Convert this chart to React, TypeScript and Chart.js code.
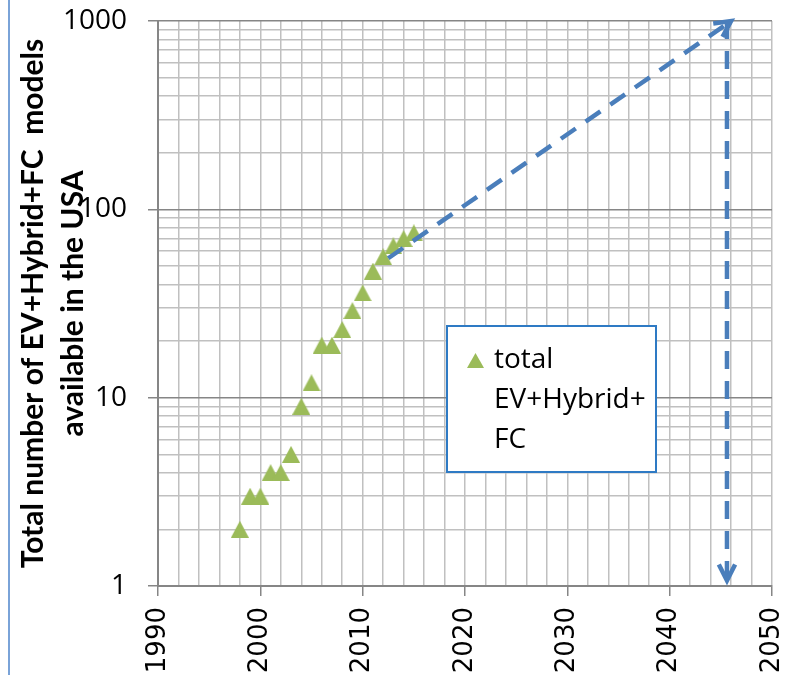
import React, { useEffect, useRef } from 'react';
import { Chart, registerables } from 'chart.js';

Chart.register(...registerables);

// ---- data ----
const years = [1998, 1999, 2000, 2001, 2002, 2003, 2004, 2005, 2006, 2007, 2008, 2009, 2010, 2011, 2012, 2013, 2014, 2015];
const totalModels = [2, 3, 3, 4, 4, 5, 9, 12, 19, 19, 23, 29, 36, 47, 56, 64, 70, 75];
const trendYears = [2012.5, 2046];
const trendValues = [55, 1000];
const dropYears = [2045.6, 2045.6];
const dropValues = [1000, 1.07];
const xLabelYears = [1990, 2000, 2010, 2020, 2030, 2040, 2050];
const yLabelValues = [1, 10, 100, 1000];
const yGridValues = [1, 2, 3, 4, 5, 6, 7, 8, 9, 10, 20, 30, 40, 50, 60, 70, 80, 90, 100, 200, 300, 400, 500, 600, 700, 800, 900, 1000];
const legendLines = ['total', 'EV+Hybrid+', 'FC'];
const yTitleLines = ['Total number of EV+Hybrid+FC  models', 'available in the USA'];

const GREEN = '#9bbb59';
const BLUE = '#4a7ebb';
const GRID = '#c0c0c0';
const AXIS = '#868686';

function makeTriangle(w: number, h: number): HTMLCanvasElement {
  const c = document.createElement('canvas');
  c.width = w;
  c.height = h;
  const g = c.getContext('2d')!;
  g.fillStyle = GREEN;
  g.beginPath();
  g.moveTo(w / 2, 0);
  g.lineTo(w, h);
  g.lineTo(0, h);
  g.closePath();
  g.fill();
  return c;
}

function drawArrowHead(ctx: CanvasRenderingContext2D, x0: number, y0: number, x1: number, y1: number) {
  const ang = Math.atan2(y1 - y0, x1 - x0);
  const len = 18;
  const spread = 0.47;
  ctx.beginPath();
  ctx.moveTo(x1 + Math.cos(ang + Math.PI - spread) * len, y1 + Math.sin(ang + Math.PI - spread) * len);
  ctx.lineTo(x1, y1);
  ctx.lineTo(x1 + Math.cos(ang + Math.PI + spread) * len, y1 + Math.sin(ang + Math.PI + spread) * len);
  ctx.stroke();
}

const overlayPlugin = {
  id: 'overlay',
  afterDatasetsDraw(chart: any) {
    const ctx: CanvasRenderingContext2D = chart.ctx;
    const xs = chart.scales.x;
    const ys = chart.scales.y;
    ctx.save();
    ctx.strokeStyle = BLUE;
    ctx.lineWidth = 4.5;
    ctx.setLineDash([]);
    ctx.lineJoin = 'miter';
    drawArrowHead(ctx,
      xs.getPixelForValue(trendYears[0]), ys.getPixelForValue(trendValues[0]),
      xs.getPixelForValue(trendYears[1]), ys.getPixelForValue(trendValues[1]));
    drawArrowHead(ctx,
      xs.getPixelForValue(dropYears[0]), ys.getPixelForValue(dropValues[0]),
      xs.getPixelForValue(dropYears[1]), ys.getPixelForValue(dropValues[1]));
    ctx.restore();
  },
  afterDraw(chart: any) {
    const ctx: CanvasRenderingContext2D = chart.ctx;
    const a = chart.chartArea;
    ctx.save();
    // legend box
    const bx = a.left + 289;
    const by = a.top + 305;
    const bw = 209;
    const bh = 146;
    ctx.fillStyle = '#ffffff';
    ctx.fillRect(bx, by, bw, bh);
    ctx.strokeStyle = '#2e7ac4';
    ctx.lineWidth = 2;
    ctx.strokeRect(bx, by, bw, bh);
    // legend marker
    ctx.fillStyle = GREEN;
    ctx.beginPath();
    ctx.moveTo(bx + 28.5, by + 27);
    ctx.lineTo(bx + 37, by + 42);
    ctx.lineTo(bx + 20, by + 42);
    ctx.closePath();
    ctx.fill();
    // legend text
    ctx.fillStyle = '#000000';
    ctx.font = '28px "Open Sans"';
    ctx.textAlign = 'left';
    ctx.textBaseline = 'alphabetic';
    legendLines.forEach((t, i) => {
      ctx.fillText(t, bx + 47, by + 42 + i * 40);
    });
    // y-axis title
    const cy = (a.top + a.bottom) / 2;
    ctx.font = 'bold 30px Lato';
    ctx.textAlign = 'center';
    yTitleLines.forEach((t, i) => {
      ctx.save();
      ctx.translate(43 + i * 40, cy);
      ctx.rotate(-Math.PI / 2);
      ctx.fillText(t, 0, 0);
      ctx.restore();
    });
    ctx.restore();
  },
};

export default function App() {
  const ref = useRef<HTMLCanvasElement | null>(null);

  useEffect(() => {
    if (!ref.current) return;
    const tri = makeTriangle(18, 17);
    const chart = new Chart(ref.current, {
      type: 'scatter',
      data: {
        datasets: [
          {
            label: 'trend',
            data: trendYears.map((x, i) => ({ x, y: trendValues[i] })),
            showLine: true,
            borderColor: BLUE,
            borderWidth: 4.5,
            borderDash: [18, 12],
            pointRadius: 0,
            clip: false as any,
          },
          {
            label: 'drop',
            data: dropYears.map((x, i) => ({ x, y: dropValues[i] })),
            showLine: true,
            borderColor: BLUE,
            borderWidth: 4.5,
            borderDash: [18, 12],
            pointRadius: 0,
            clip: false as any,
          },
          {
            label: 'total EV+Hybrid+FC',
            data: years.map((x, i) => ({ x, y: totalModels[i] })),
            pointStyle: tri as any,
            pointRadius: 9,
            backgroundColor: GREEN,
            borderColor: GREEN,
            showLine: false,
          },
        ],
      },
      options: {
        responsive: false,
        animation: false,
        layout: { padding: { left: 58, top: 21, right: 15, bottom: 0 } },
        plugins: {
          legend: { display: false },
          tooltip: { enabled: false },
        },
        scales: {
          x: {
            type: 'linear',
            min: 1990,
            max: 2050,
            afterFit: (s: any) => {
              s.height = 89;
              s.paddingLeft = 0;
              s.paddingRight = 0;
            },
            ticks: {
              stepSize: 2,
              autoSkip: false,
              minRotation: 90,
              maxRotation: 90,
              padding: 11,
              color: '#000000',
              font: { family: '"DejaVu Sans"', size: 26 },
              callback: (v: any) => (xLabelYears.includes(Number(v)) ? String(v) : ''),
            },
            grid: {
              color: GRID,
              lineWidth: 1.5,
              tickLength: 10,
              tickColor: (c: any) => (c.tick && xLabelYears.includes(c.tick.value) ? AXIS : 'rgba(0,0,0,0)'),
              tickWidth: 1.5,
            },
            border: { color: AXIS, width: 2 },
          },
          y: {
            type: 'logarithmic',
            min: 1,
            max: 1000,
            afterBuildTicks: (s: any) => {
              s.ticks = yGridValues.map((v) => ({ value: v, major: yLabelValues.includes(v) }));
            },
            afterFit: (s: any) => {
              s.width = 100;
              s.paddingTop = 0;
              s.paddingBottom = 0;
            },
            ticks: {
              autoSkip: false,
              padding: 21,
              color: '#000000',
              font: { family: '"Open Sans"', size: 28 },
              callback: (v: any) => (yLabelValues.includes(Number(v)) ? String(v) : ''),
            },
            grid: {
              color: (c: any) => (c.tick && yLabelValues.includes(c.tick.value) ? AXIS : GRID),
              lineWidth: 1.5,
              tickLength: 10,
              tickColor: (c: any) => (c.tick && yLabelValues.includes(c.tick.value) ? AXIS : 'rgba(0,0,0,0)'),
              tickWidth: 1.5,
            },
            border: { color: AXIS, width: 2 },
          },
        },
      },
      plugins: [overlayPlugin],
    } as any);
    return () => chart.destroy();
  }, []);

  return (
    <div style={{ position: 'fixed', left: 0, top: 0, width: 787, height: 675, background: '#ffffff' }}>
      <div style={{ position: 'absolute', left: 8, top: 0, width: 2, height: 675, background: '#7aa3d8' }} />
      <canvas ref={ref} width={787} height={675} style={{ position: 'absolute', left: 0, top: 0 }} />
    </div>
  );
}
